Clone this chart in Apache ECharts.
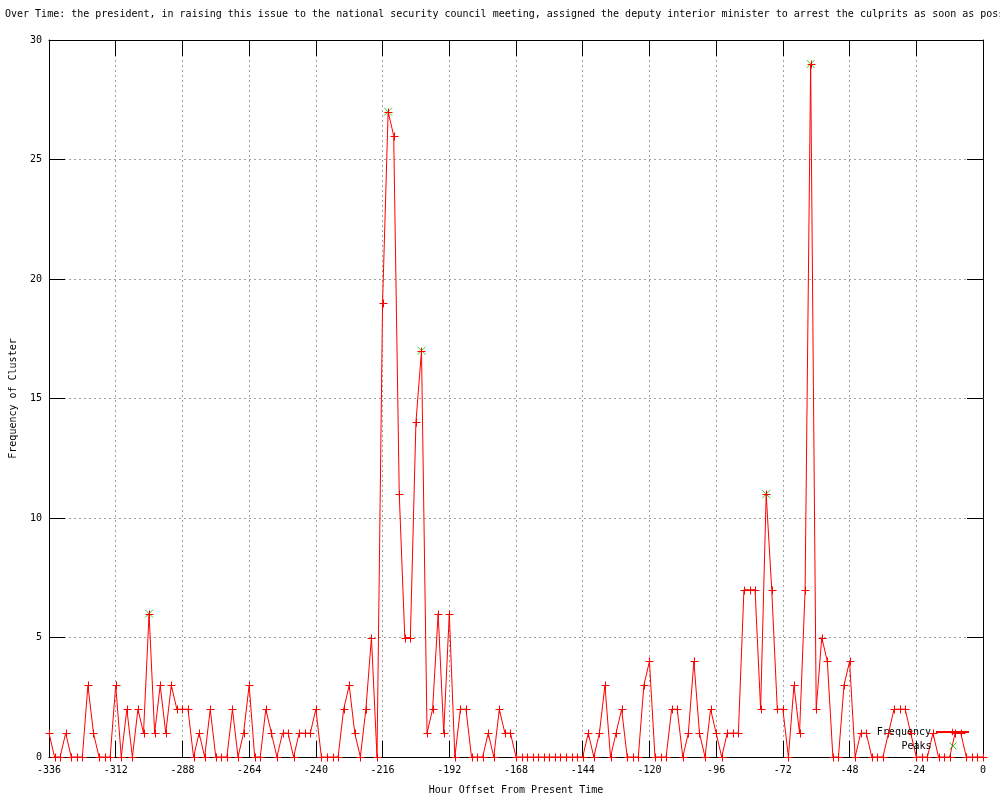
<!DOCTYPE html>
<html>
<head>
<meta charset="utf-8">
<script src="https://cdn.jsdelivr.net/npm/echarts@6/dist/echarts.min.js"></script>
<style>html,body{margin:0;padding:0;background:#fff}#c{width:1000px;height:800px}</style>
</head>
<body>
<div id="c"></div>
<script>
var titleText = "Over Time: the president, in raising this issue to the national security council meeting, assigned the deputy interior minister to arrest the culprits as soon as poss";
var hours = [-336,-334,-332,-330,-328,-326,-324,-322,-320,-318,-316,-314,-312,-310,-308,-306,-304,-302,-300,-298,-296,-294,-292,-290,-288,-286,-284,-282,-280,-278,-276,-274,-272,-270,-268,-266,-264,-262,-260,-258,-256,-254,-252,-250,-248,-246,-244,-242,-240,-238,-236,-234,-232,-230,-228,-226,-224,-222,-220,-218,-216,-214,-212,-210,-208,-206,-204,-202,-200,-198,-196,-194,-192,-190,-188,-186,-184,-182,-180,-178,-176,-174,-172,-170,-168,-166,-164,-162,-160,-158,-156,-154,-152,-150,-148,-146,-144,-142,-140,-138,-136,-134,-132,-130,-128,-126,-124,-122,-120,-118,-116,-114,-112,-110,-108,-106,-104,-102,-100,-98,-96,-94,-92,-90,-88,-86,-84,-82,-80,-78,-76,-74,-72,-70,-68,-66,-64,-62,-60,-58,-56,-54,-52,-50,-48,-46,-44,-42,-40,-38,-36,-34,-32,-30,-28,-26,-24,-22,-20,-18,-16,-14,-12,-10,-8,-6,-4,-2,0];
var frequency = [1,0,0,1,0,0,0,3,1,0,0,0,3,0,2,0,2,1,6,1,3,1,3,2,2,2,0,1,0,2,0,0,0,2,0,1,3,0,0,2,1,0,1,1,0,1,1,1,2,0,0,0,0,2,3,1,0,2,5,0,19,27,26,11,5,5,14,17,1,2,6,1,6,0,2,2,0,0,0,1,0,2,1,1,0,0,0,0,0,0,0,0,0,0,0,0,0,1,0,1,3,0,1,2,0,0,0,3,4,0,0,0,2,2,0,1,4,1,0,2,1,0,1,1,1,7,7,7,2,11,7,2,2,0,3,1,7,29,2,5,4,0,0,3,4,0,1,1,0,0,0,1,2,2,2,1,0,0,0,1,0,0,0,1,1,0,0,0,0];
var peakHours = [-300,-214,-202,-78,-62];
var peakValues = [6,27,17,11,29];
var xTicks = {min:-336, max:0, interval:24};
var yTicks = {min:0, max:30, interval:5};

var MONO = "'DejaVu Sans Mono', monospace";
var freqData = hours.map(function(h,i){return [h, frequency[i]];});
var peakData = peakHours.map(function(h,i){return [h, peakValues[i]];});
var PLUS = 'path://M0,3H7V4H0ZM3,0H4V7H3Z';
var CROSS = 'path://M0,0L10,10M10,0L0,10';

function plusMarker(params, api){
  var p = api.coord([api.value(0), api.value(1)]);
  var x = Math.round(p[0]) + 0.5, y = Math.round(p[1]) + 0.5;
  var s = {stroke:'#ff0000', lineWidth:1, fill:null};
  return {type:'group', children:[
    {type:'line', shape:{x1:x-4, y1:y, x2:x+4, y2:y}, style:s},
    {type:'line', shape:{x1:x, y1:y-4, x2:x, y2:y+4}, style:s}
  ]};
}

var chart = echarts.init(document.getElementById('c'), null, {renderer:'canvas'});
var gridLine = {show:true, lineStyle:{color:'#a0a0a0', type:[2,3], width:1}};
var axisLine = {show:true, onZero:false, lineStyle:{color:'#000', width:1}};
chart.setOption({
  animation:false,
  backgroundColor:'#fff',
  title:{text:titleText, left:0, top:4, textStyle:{fontFamily:MONO, fontSize:10, fontWeight:'normal', color:'#000'}},
  legend:[
    {data:[{name:'Frequency'}], orient:'horizontal', right:30, top:727, align:'right', padding:0, itemWidth:33, itemHeight:8,
     textStyle:{fontFamily:MONO, fontSize:10, color:'#000'}},
    {data:[{name:'Peaks', icon:CROSS, itemStyle:{color:'#00c000', borderColor:'#00c000', borderWidth:1}}], orient:'horizontal', right:43, top:741, align:'right', padding:0, itemWidth:33, itemHeight:7,
     textStyle:{fontFamily:MONO, fontSize:10, color:'#000'}}
  ],
  grid:{left:49, right:17, top:40, bottom:40},
  xAxis:[
    {type:'value', min:xTicks.min, max:xTicks.max, interval:xTicks.interval, position:'bottom',
     name:'Hour Offset From Present Time', nameLocation:'middle', nameGap:28,
     nameTextStyle:{fontFamily:MONO, fontSize:10, color:'#000'},
     axisLine:axisLine, axisTick:{show:true, inside:true, length:16, lineStyle:{color:'#000'}},
     axisLabel:{fontFamily:MONO, fontSize:10, color:'#000', margin:8},
     splitLine:gridLine},
    {type:'value', min:xTicks.min, max:xTicks.max, interval:xTicks.interval, position:'top',
     axisLine:axisLine, axisTick:{show:true, inside:true, length:16, lineStyle:{color:'#000'}},
     axisLabel:{show:false}, splitLine:{show:false}}
  ],
  yAxis:[
    {type:'value', min:yTicks.min, max:yTicks.max, interval:yTicks.interval, position:'left',
     name:'Frequency of Cluster', nameLocation:'middle', nameGap:31, nameRotate:90,
     nameTextStyle:{fontFamily:MONO, fontSize:10, color:'#000'},
     axisLine:axisLine, axisTick:{show:true, inside:true, length:16, lineStyle:{color:'#000'}},
     axisLabel:{fontFamily:MONO, fontSize:10, color:'#000', margin:7},
     splitLine:gridLine},
    {type:'value', min:yTicks.min, max:yTicks.max, interval:yTicks.interval, position:'right',
     axisLine:axisLine, axisTick:{show:true, inside:true, length:16, lineStyle:{color:'#000'}},
     axisLabel:{show:false}, splitLine:{show:false}}
  ],
  series:[
    {name:'Peaks', type:'scatter', data:peakData, symbol:CROSS, symbolSize:8, z:2,
     itemStyle:{color:'#00c000', borderColor:'#00c000', borderWidth:1}},
    {name:'Frequency', type:'line', data:freqData, symbol:PLUS, symbolSize:7, showSymbol:false, z:3,
     clip:false,
     lineStyle:{color:'#ff0000', width:1},
     itemStyle:{color:'#ff0000', borderWidth:0}},
    {type:'custom', data:freqData, renderItem:plusMarker, z:4, clip:false, silent:true}
  ]
});
</script>
</body>
</html>
